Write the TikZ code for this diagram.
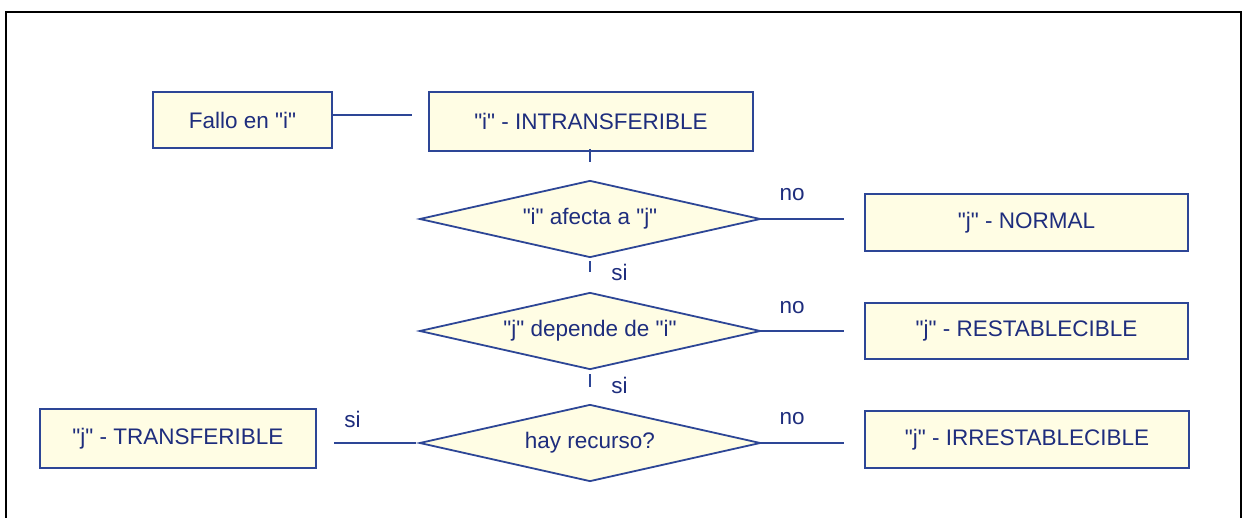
\documentclass[tikz,border=0pt]{standalone}
\usepackage{fontspec}
\setmainfont{Liberation Sans}[Ligatures=TeXOff]
\usepackage{tikz}
\usetikzlibrary{shapes.geometric}
\definecolor{cajafondo}{RGB}{255,253,228}
\definecolor{cajaborde}{RGB}{45,70,150}
\definecolor{letra}{RGB}{30,45,125}

\begin{document}
\begin{tikzpicture}[x=1pt,y=-1pt,
    caja/.style={draw=cajaborde,line width=1.8pt,fill=cajafondo,text=letra,
        inner sep=0pt,font=\fontsize{22.5}{26}\selectfont},
    pregunta/.style={caja,diamond,aspect=4.43,minimum width=341pt,minimum height=77pt},
    linea/.style={draw=cajaborde,line width=2pt},
    lbl/.style={text=letra,font=\fontsize{22.5}{26}\selectfont}]
    \useasboundingbox (0,0) rectangle (1248,518);
    \draw[line width=2.5pt] (6,518) -- (6,12) -- (1241,12) -- (1241,518);

    % cajas
    \node[caja,minimum width=179pt,minimum height=56pt] (fallo) at (242.5,120) {Fallo en "i"};
    \node[caja,minimum width=324pt,minimum height=59pt] (intr) at (591,121.5) {"i" - INTRANSFERIBLE};
    \node[caja,minimum width=323pt,minimum height=57pt] (normal) at (1026.5,222.5) {"j" - NORMAL};
    \node[caja,minimum width=323pt,minimum height=56pt] (restab) at (1026.5,331) {"j" - RESTABLECIBLE};
    \node[caja,minimum width=324pt,minimum height=57pt] (irrest) at (1027,439.5) {"j" - IRRESTABLECIBLE};
    \node[caja,minimum width=276pt,minimum height=59pt] (transf) at (178,438.5) {"j" - TRANSFERIBLE};

    % preguntas
    \node[pregunta] (afecta) at (590,219) {"i" afecta a "j"};
    \node[pregunta] (depende) at (590,331) {"j" depende de "i"};
    \node[pregunta] (recurso) at (590,443) {hay recurso?};

    % uniones
    \coordinate (f) at ([yshift=5pt]fallo.east);
    \draw[linea,shorten >=16pt] (f) -- (f -| intr.west);
    \draw[linea,shorten <=-3pt,shorten >=18pt] (afecta.north |- intr.south) -- (afecta.north);
    \draw[linea,shorten <=3pt,shorten >=20pt] (afecta.south) -- node[lbl,right=17pt,pos=0.42] {si} (depende.north);
    \draw[linea,shorten <=4pt,shorten >=17pt] (depende.south) -- node[lbl,right=17pt,pos=0.45] {si} (recurso.north);
    \draw[linea,shorten >=20pt] (afecta.east) -- node[lbl,above=14pt,pos=0.3] {no} (afecta.east -| normal.west);
    \draw[linea,shorten >=20pt] (depende.east) -- node[lbl,above=13pt,pos=0.3] {no} (depende.east -| restab.west);
    \draw[linea,shorten >=20pt] (recurso.east) -- node[lbl,above=14pt,pos=0.3] {no} (recurso.east -| irrest.west);
    \draw[linea,shorten <=3pt,shorten >=17pt] (recurso.west) -- node[lbl,above=11pt,pos=0.65] {si} (recurso.west -| transf.east);
\end{tikzpicture}
\end{document}
